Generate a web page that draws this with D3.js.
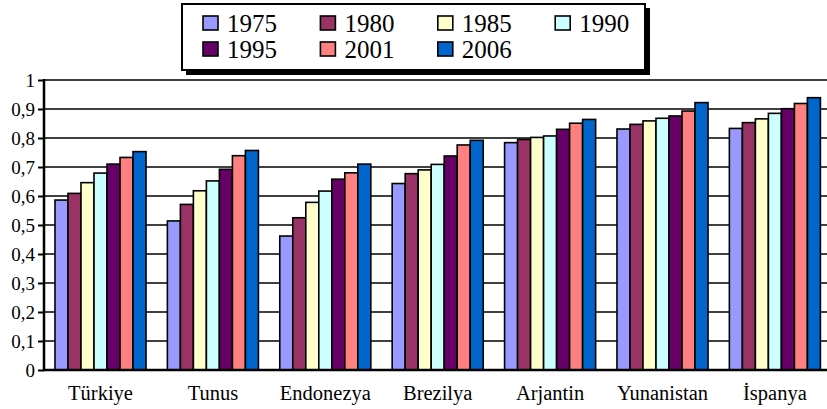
<!DOCTYPE html>
<html><head><meta charset="utf-8">
<script src="https://cdn.jsdelivr.net/npm/d3@7"></script>
<style>body{margin:0;background:#fff}svg{display:block}</style>
</head><body>
<svg id="c" width="827" height="409" font-family="Liberation Serif"></svg>
<script>
const categories = ["Türkiye","Tunus","Endonezya","Brezilya","Arjantin","Yunanistan","İspanya"];
const years = ["1975","1980","1985","1990","1995","2001","2006"];
const colors = ["#9999FF","#993366","#FFFFCC","#CCFFFF","#660066","#FF8080","#0066CC"];
const v1975 = [0.586,0.514,0.462,0.643,0.784,0.831,0.833];
const v1980 = [0.609,0.571,0.525,0.677,0.795,0.847,0.853];
const v1985 = [0.646,0.618,0.578,0.690,0.802,0.859,0.866];
const v1990 = [0.679,0.652,0.617,0.709,0.807,0.868,0.885];
const v1995 = [0.710,0.692,0.658,0.738,0.830,0.876,0.901];
const v2001 = [0.733,0.739,0.680,0.776,0.851,0.893,0.919];
const v2006 = [0.753,0.757,0.710,0.792,0.864,0.922,0.939];
const series = [v1975,v1980,v1985,v1990,v1995,v2001,v2006];
const yTicks = [0,0.1,0.2,0.3,0.4,0.5,0.6,0.7,0.8,0.9,1];
const tickLabels = ["0","0,1","0,2","0,3","0,4","0,5","0,6","0,7","0,8","0,9","1"];

const FONT = "Liberation Serif";
const svg = d3.select("#c");
const x0 = 44.3, band = 112.4;
const x = d3.scaleBand().domain(categories).range([x0, x0 + band*categories.length]).paddingInner(0.19).paddingOuter(0.095);
const xs = d3.scaleBand().domain(years).range([0, x.bandwidth()]);
const y = d3.scaleLinear().domain([0,1]).range([370,80]);

// gridlines
svg.append("g").selectAll("line").data(yTicks.slice(1)).join("line")
  .attr("x1", 44).attr("x2", 827).attr("y1", d=>y(d)).attr("y2", d=>y(d))
  .attr("stroke","#000").attr("stroke-width",1.5);

// bars
const g = svg.append("g");
categories.forEach((c,i)=>{
  series.forEach((s,j)=>{
    g.append("rect")
      .attr("x", x(c)+xs(years[j]))
      .attr("y", y(s[i]))
      .attr("width", xs.bandwidth())
      .attr("height", y(0)-y(s[i]))
      .attr("fill", colors[j]).attr("stroke","#000").attr("stroke-width",1.6);
  });
});

// y axis
const yAxis = d3.axisLeft(y).tickValues(yTicks).tickFormat((d,i)=>tickLabels[i]).tickSize(6).tickPadding(3);
const ya = svg.append("g").attr("transform","translate(44,0)").call(yAxis);
ya.attr("font-family",FONT).attr("font-size",19);
ya.select(".domain").remove();
ya.selectAll(".tick line").attr("stroke","#000").attr("stroke-width",2);
ya.selectAll(".tick text").attr("font-family",FONT).attr("font-size",19).attr("fill","#000");
svg.append("line").attr("x1",44).attr("x2",44).attr("y1",79).attr("y2",371).attr("stroke","#000").attr("stroke-width",2.5);

// x axis
const xAxis = d3.axisBottom(x).tickSize(0).tickPadding(0);
const xa = svg.append("g").attr("transform","translate(0,370)").call(xAxis);
xa.attr("font-family",FONT).attr("font-size",20.5);
xa.select(".domain").remove();
xa.selectAll(".tick text").attr("font-family",FONT).attr("font-size",20.5).attr("fill","#000").attr("dy",null).attr("y",30);
svg.append("line").attr("x1",43).attr("x2",827).attr("y1",370).attr("y2",370).attr("stroke","#000").attr("stroke-width",2.5);

// legend
const lg = svg.append("g");
lg.append("rect").attr("x",186).attr("y",8).attr("width",464).attr("height",67).attr("fill","#000");
lg.append("rect").attr("x",182).attr("y",4).attr("width",463).attr("height",66).attr("fill","#fff").attr("stroke","#000").attr("stroke-width",2);
years.forEach((yr,j)=>{
  const col = j%4, row = Math.floor(j/4);
  const lx = 203 + col*117.4, ly = 16 + row*26;
  lg.append("rect").attr("x",lx).attr("y",ly).attr("width",15).attr("height",14).attr("fill",colors[j]).attr("stroke","#000").attr("stroke-width",1.6);
  lg.append("text").attr("x",lx+24).attr("y",ly+16).text(yr).attr("font-family",FONT).attr("font-size",25).attr("fill","#000");
});
</script>
</body></html>
